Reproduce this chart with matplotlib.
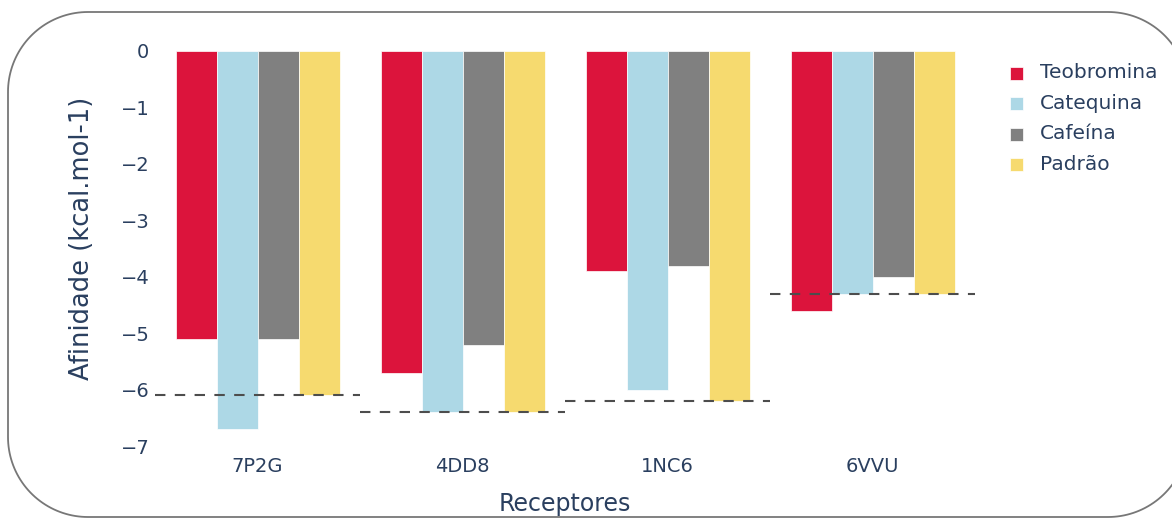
import matplotlib
matplotlib.use("Agg")
import matplotlib.pyplot as plt
from matplotlib.patches import Rectangle, Polygon
from matplotlib.transforms import Affine2D
import numpy as np

receptores = ["7P2G", "4DD8", "1NC6", "6VVU"]
series_names = ["Teobromina", "Catequina", "Cafeína", "Padrão"]
teobromina = [-5.1, -5.7, -3.9, -4.6]
catequina = [-6.7, -6.4, -6.0, -4.3]
cafeina = [-5.1, -5.2, -3.8, -4.0]
padrao = [-6.1, -6.4, -6.2, -4.3]
colors = ["#DC143C", "#ADD8E6", "#808080", "#F6DA6F"]
yticks = [0, -1, -2, -3, -4, -5, -6, -7]

W, H = 1172, 518
fig = plt.figure(figsize=(W / 100, H / 100), dpi=100)
fig.patch.set_facecolor("white")

def fx(px):
    return px / W

def fy(py):
    return 1 - py / H

# pixel transform with origin at top-left
pix = Affine2D().scale(1, -1).translate(0, H).scale(1 / W, 1 / H) + fig.transFigure

# Rounded frame with circular corners (extends past right edge)
L, T, R, B, r = 8, 12, 1188, 517, 80
pts = []
for (cx, cy, a0, a1) in [(L + r, T + r, 180, 270), (R - r, T + r, 270, 360),
                         (R - r, B - r, 0, 90), (L + r, B - r, 90, 180)]:
    th = np.radians(np.linspace(a0, a1, 40))
    pts.extend(zip(cx + r * np.cos(th), cy + r * np.sin(th)))
frame = Polygon(pts, closed=True, transform=pix, facecolor="none",
                edgecolor="#777777", linewidth=1.3, clip_on=False)
fig.add_artist(frame)

left, right = 155, 975
top, bottom = 51, 449
ax = fig.add_axes([fx(left), fy(bottom), fx(right) - fx(left), fy(top) - fy(bottom)])
ax.set_facecolor("none")

data = [teobromina, catequina, cafeina, padrao]
x = np.arange(len(receptores))
bw = 0.2
for i, (vals, c) in enumerate(zip(data, colors)):
    ax.bar(x - 0.3 + i * bw, vals, width=bw, color=c, edgecolor="white",
           linewidth=0.5, zorder=2)

for xi, p in zip(x, padrao):
    ax.plot([xi - 0.5, xi + 0.5], [p, p], color="#4d4d4d", linewidth=1.5,
            dashes=(5, 4.5), zorder=3)

ax.set_xlim(-0.5, 3.5)
ax.set_ylim(-7.05, 0)
ax.set_yticks(yticks)
ax.set_xticks(x)
ax.set_xticklabels(receptores)
text_color = "#2a3f5f"
ax.tick_params(axis="both", length=0, labelsize=14, colors=text_color)
ax.tick_params(axis="y", pad=4)
ax.tick_params(axis="x", pad=6)
for s in ax.spines.values():
    s.set_visible(False)

fig.text(fx(565), fy(504), "Receptores", ha="center", va="center",
         fontsize=17, color=text_color)
fig.text(fx(82), fy(238), "Afinidade (kcal.mol-1)", ha="center", va="center",
         rotation=90, fontsize=18.5, color=text_color)

# Legend
leg_y = [73, 103.5, 134, 164.5]
for name, c, yy in zip(series_names, colors, leg_y):
    fig.add_artist(Rectangle((fx(1010), fy(yy + 6.5)), fx(13), 13 / H,
                             transform=fig.transFigure, facecolor=c,
                             edgecolor="white", linewidth=0.5))
    fig.text(fx(1040), fy(yy), name, ha="left", va="center", fontsize=14.5,
             color=text_color)

fig.savefig("out.png", dpi=100, facecolor="white")
